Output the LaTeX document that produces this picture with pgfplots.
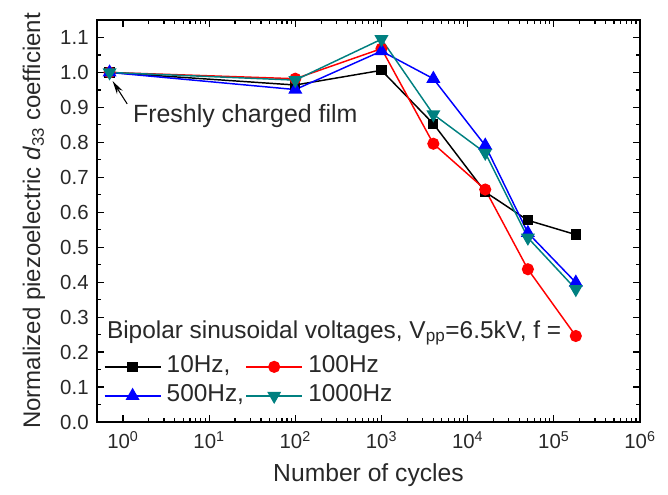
\documentclass[border=0pt]{standalone}
\usepackage{fontspec}
\setmainfont{Liberation Sans}
\usepackage{pgfplots}
\pgfplotsset{compat=1.18}
\usetikzlibrary{arrows.meta}
\definecolor{tealc}{RGB}{0,128,128}
\definecolor{txt}{RGB}{40,40,40}
\begin{document}
\fontsize{18.3}{21}\selectfont
\begin{tikzpicture}
\begin{axis}[
  scale only axis,
  width=407.25pt, height=301.5pt,
  xmode=log, xmin=0.5, xmax=1e6,
  ymin=0, ymax=1.15,
  xtick={1,10,100,1000,10000,100000,1000000},
  xticklabels={10\textsuperscript{0},10\textsuperscript{1},10\textsuperscript{2},10\textsuperscript{3},10\textsuperscript{4},10\textsuperscript{5},10\textsuperscript{6}},
  ytick={0,0.1,...,1.1},
  minor ytick={0.05,0.15,...,1.1},
  yticklabel style={/pgf/number format/.cd,fixed,fixed zerofill,precision=1,assume math mode=true},
  ticklabel style={font=\fontsize{15.3}{18}\selectfont, text=txt},
  xticklabel style={yshift=-1pt},
  axis line style={line width=1.3pt},
  major tick length=5pt, minor tick length=3pt,
  every tick/.style={black, line width=0.9pt},
  xlabel={Number of cycles},
  ylabel={Normalized piezoelectric \textit{d}\textsubscript{33} coefficient},
  xlabel style={font=\fontsize{18.5}{21}\selectfont, text=txt, yshift=1pt},
  ylabel style={font=\fontsize{18}{21}\selectfont, text=txt, yshift=-1pt},
  legend columns=2,
  legend cell align=left,
  legend style={draw=none, fill=none, inner sep=0pt, outer sep=0pt,
    at={(rel axis cs:0.0125,0.172)}, anchor=north west,
    font=\fontsize{18.3}{21}\selectfont, text=txt,
    nodes={inner sep=1pt, text height=14pt, text depth=5pt},
    /tikz/every even column/.append style={column sep=0pt},
    row sep=0.75pt},
  legend image code/.code={\draw[mark repeat=2,mark phase=2,#1] plot coordinates {(0cm,0cm) (0.74cm,0cm) (1.48cm,0cm)};},
  every axis plot/.append style={line width=1.1pt},
]
\addplot[black, mark=square*, mark size=3.3pt, mark options={solid}] coordinates {
(0.7,1.0) (100,0.964) (1000,1.006) (4000,0.853) (16000,0.658) (50000,0.577) (180000,0.536)};
\addlegendentry{\hspace{3pt}10Hz,}
\addplot[red, mark=*, mark size=4pt] coordinates {
(0.7,1.0) (100,0.982) (1000,1.068) (4000,0.796) (16000,0.665) (50000,0.437) (180000,0.246)};
\addlegendentry{\hspace{3pt}100Hz}
\addplot[blue, mark=triangle*, mark size=5pt] coordinates {
(0.7,1.0) (100,0.951) (1000,1.061) (4000,0.982) (16000,0.791) (50000,0.541) (180000,0.399)};
\addlegendentry{\hspace{3pt}500Hz,}
\addplot[tealc, mark=triangle*, mark size=5pt, mark options={rotate=180}] coordinates {
(0.7,1.0) (100,0.978) (1000,1.095) (4000,0.88) (16000,0.77) (50000,0.527) (180000,0.38)};
\addlegendentry{\hspace{3pt}1000Hz}
\node[anchor=west, text=txt, inner sep=0pt, font=\fontsize{18.7}{21}\selectfont] at (axis cs:1.3,0.874) {Freshly charged film};
\draw[-{Stealth[length=10pt,width=5pt]}, line width=0.8pt] (axis cs:1.12,0.91) -- (axis cs:0.76,0.975);
\node[anchor=west, text=txt, inner sep=0pt] at (rel axis cs:0.018,0.221) {Bipolar sinusoidal voltages, V\textsubscript{pp}=6.5kV, f =};
\end{axis}
\pgfresetboundingbox
\path (current axis.south west) ++(-72.75pt,-54.75pt) rectangle ++(501pt,371.25pt);
\end{tikzpicture}
\end{document}
